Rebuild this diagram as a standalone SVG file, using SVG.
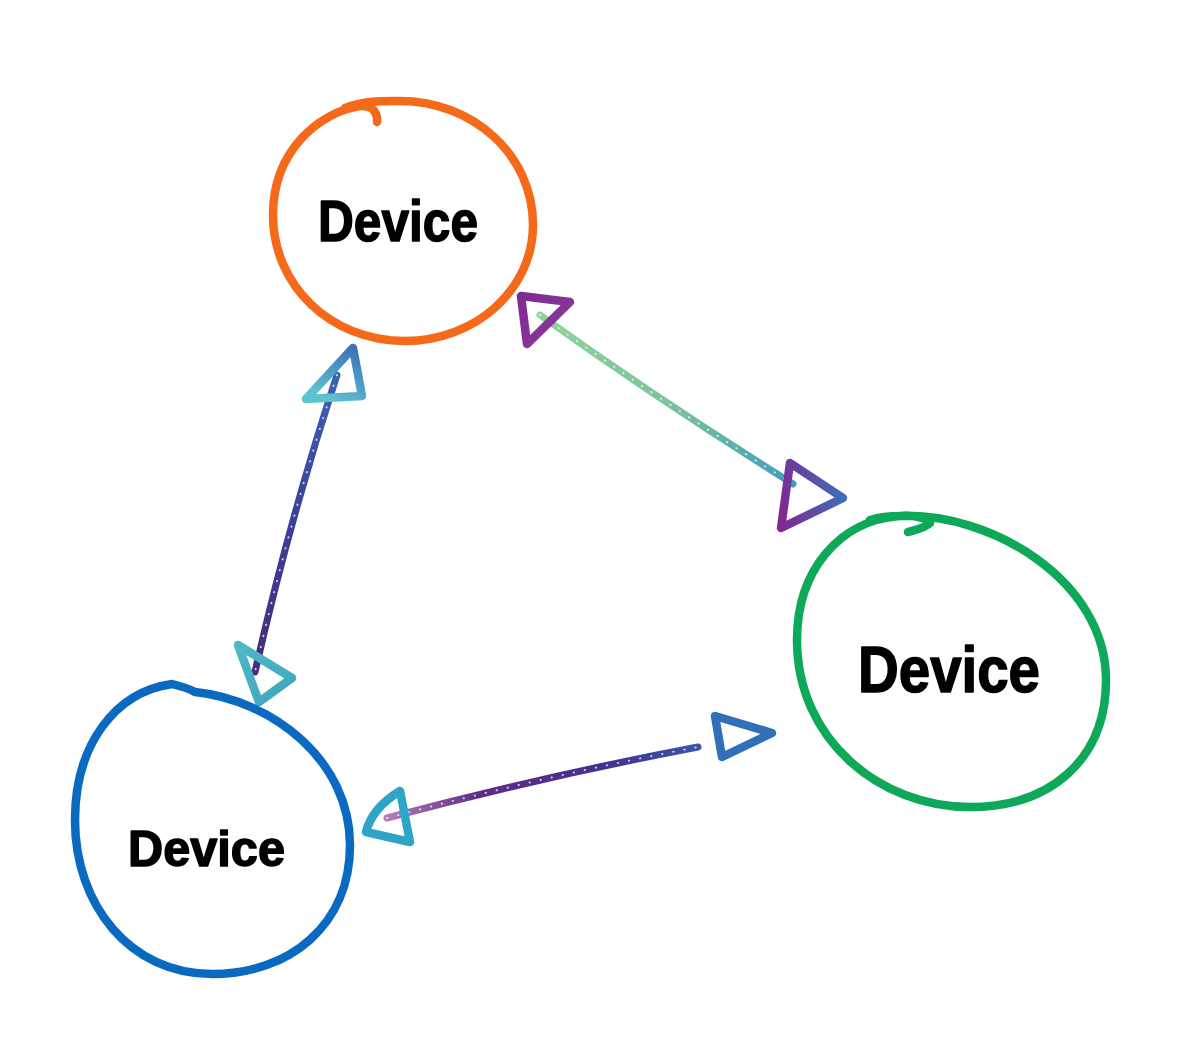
<svg xmlns="http://www.w3.org/2000/svg" width="1187" height="1052" viewBox="0 0 1187 1052">
<style>
.ring{fill:none;stroke-width:8.5;stroke-linecap:round;stroke-linejoin:round}
.lbl{font-family:"Liberation Sans",Arial,sans-serif;font-weight:700;fill:#000;stroke:#000;stroke-width:1.5;stroke-linejoin:round;text-anchor:start}
.ln{fill:none;stroke-width:7;stroke-linecap:round}
.hd{fill:none;stroke-width:8.5;stroke-linecap:round;stroke-linejoin:round}
.spk{fill:none;stroke:#fff;stroke-width:2;stroke-linecap:round;stroke-dasharray:0.3 11;opacity:0.75}
</style>
<defs>
<linearGradient id="gOG" gradientUnits="userSpaceOnUse" x1="540" y1="315" x2="795" y2="485">
<stop offset="0" stop-color="#8FD39A"/><stop offset="0.5" stop-color="#7FC49A"/><stop offset="1" stop-color="#3F9CC0"/>
</linearGradient>
<linearGradient id="gOGh1" gradientUnits="userSpaceOnUse" x1="520" y1="300" x2="570" y2="345">
<stop offset="0" stop-color="#7E2C91"/><stop offset="1" stop-color="#8E3AA0"/>
</linearGradient>
<linearGradient id="gOGh2" gradientUnits="userSpaceOnUse" x1="780" y1="500" x2="843" y2="490">
<stop offset="0" stop-color="#7E2A92"/><stop offset="1" stop-color="#3C6FB8"/>
</linearGradient>
<linearGradient id="gOB" gradientUnits="userSpaceOnUse" x1="337" y1="375" x2="255" y2="672">
<stop offset="0" stop-color="#3C63B0"/><stop offset="0.5" stop-color="#3A3F98"/><stop offset="1" stop-color="#4A2A7C"/>
</linearGradient>
<linearGradient id="gOBh1" gradientUnits="userSpaceOnUse" x1="353" y1="348" x2="330" y2="400">
<stop offset="0" stop-color="#3F72B8"/><stop offset="1" stop-color="#5CC3D0"/>
</linearGradient>
<linearGradient id="gOBh2" gradientUnits="userSpaceOnUse" x1="237" y1="645" x2="292" y2="700">
<stop offset="0" stop-color="#4FB8C4"/><stop offset="1" stop-color="#3FA6BE"/>
</linearGradient>
<linearGradient id="gBG" gradientUnits="userSpaceOnUse" x1="387" y1="818" x2="698" y2="747">
<stop offset="0" stop-color="#B07FB8"/><stop offset="0.3" stop-color="#5E2C86"/><stop offset="0.7" stop-color="#45308E"/><stop offset="1" stop-color="#3A56A8"/>
</linearGradient>
</defs>

<g id="connectors">
<g id="edge-orange-green">
<path class="ln" d="M540,315 Q662,402 793,484" stroke="url(#gOG)"/>
<path class="spk" d="M540,315 Q662,402 793,484"/>
<path class="hd" d="M570,302 L521,296 L527,344 Z" stroke="url(#gOGh1)"/>
<path class="hd" d="M790,463 L843,498 L781,528 Z" stroke="url(#gOGh2)"/>
</g>
<g id="edge-orange-blue">
<path class="ln" d="M337,375 Q290,518 255,672" stroke="url(#gOB)"/>
<path class="spk" d="M337,375 Q290,518 255,672"/>
<path class="hd" d="M353,348 L306,399 L362,396 Z" stroke="url(#gOBh1)"/>
<path class="hd" d="M238,645 L292,678 L259,702 Z" stroke="url(#gOBh2)"/>
</g>
<g id="edge-blue-green">
<path class="ln" d="M387,818 Q545,776 698,747" stroke="url(#gBG)"/>
<path class="spk" d="M387,818 Q545,776 698,747"/>
<path class="hd" d="M400,791 Q372,808 366,832 L410,842 Z" stroke="#2FA5C6"/>
<path class="hd" d="M715,716 L722,757 L772,733 Z" stroke="#3170B8"/>
</g>
</g>

<g id="node-top">
<path class="ring" stroke="#F5691A" d="M345,108 C365,100 385,101 400,101 C473,101 533,155 533,225 C533,290 475,341 405,341 C330,341 273,285 273,215 C273,150 320,112 360,106 C372,105 378,112 377,122"/>
<text class="lbl" x="318" y="241" font-size="58" textLength="160" lengthAdjust="spacingAndGlyphs">Device</text>
</g>

<g id="node-right">
<path class="ring" stroke="#0DA858" d="M870,520 C880,517 890,516 900,516 C990,512 1106,580 1106,680 C1106,760 1050,807 970,807 C880,807 797,740 797,640 C797,570 840,520 900,516 C915,515 928,518 930,523 C925,528 915,530 908,532"/>
<text class="lbl" x="858" y="692" font-size="64" textLength="182" lengthAdjust="spacingAndGlyphs">Device</text>
</g>

<g id="node-left">
<path class="ring" stroke="#0A6AC2" stroke-width="9" d="M172,684 C180,686 190,689 195,692 C272,700 350,760 350,845 C350,925 290,974 212,974 C130,974 75,905 75,820 C75,745 115,692 172,684"/>
<text class="lbl" x="128" y="866" font-size="50" textLength="157" lengthAdjust="spacingAndGlyphs">Device</text>
</g>
</svg>
